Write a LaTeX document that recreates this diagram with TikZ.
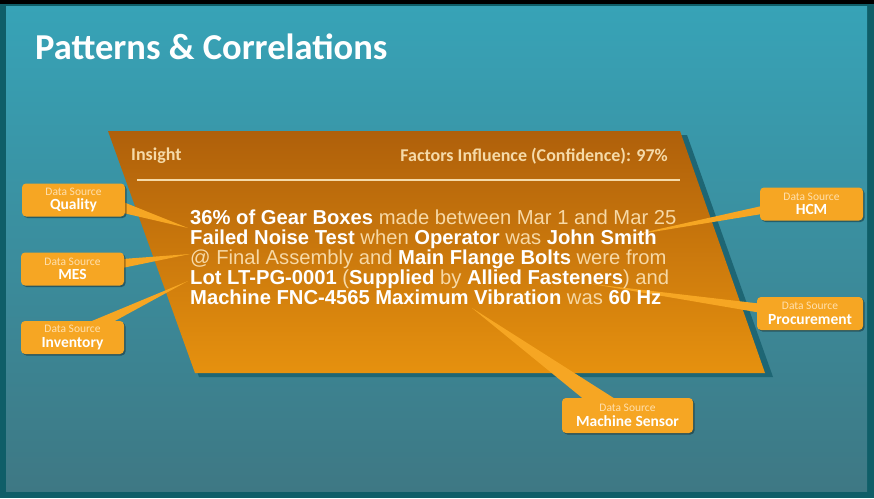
\documentclass[tikz,border=0pt]{standalone}
\usepackage{fontspec}
\setmainfont{Liberation Sans}
\newfontfamily\calfont{Carlito}
\usetikzlibrary{shadows,calc}
\definecolor{framec}{HTML}{0F5E68}
\definecolor{bgtop}{HTML}{37A3B7}
\definecolor{bgbot}{HTML}{3E7884}
\definecolor{trtop}{HTML}{AF600B}
\definecolor{trbot}{HTML}{E6910E}
\definecolor{trshadow}{HTML}{1E6674}
\definecolor{boxc}{HTML}{F6A623}
\definecolor{dsc}{HTML}{FFE0AE}
\definecolor{hdrc}{HTML}{F5DAA8}
\definecolor{lightc}{HTML}{F7D9A6}
\pgfdeclarelayer{bglayer}
\pgfdeclarelayer{wedgelayer}
\pgfsetlayers{bglayer,wedgelayer,main}
\tikzset{
  srcbox/.style={fill=boxc, rounded corners=4pt, minimum width=103pt, minimum height=33pt,
    inner sep=0pt, align=center, text=white, font=\calfont\fontsize{15.5}{14.5}\selectfont,
    drop shadow={shadow xshift=1.5pt, shadow yshift=-1.5pt, opacity=0.35, fill=black}},
  wedge/.style={fill=boxc},
  mainline/.style={anchor=base west, inner sep=0pt, text height=14.6pt, text depth=4.2pt,
    text=white, font=\fontsize{20.2}{22}\selectfont},
  hdr/.style={inner sep=0pt, text=hdrc, font=\calfont\bfseries\fontsize{18}{20}\selectfont}
}
\newcommand{\ds}[1]{{\fontsize{11.5}{12}\selectfont\color{dsc}Data Source}\\{\bfseries #1}}
\newcommand{\lt}[1]{{\mdseries\color{lightc}#1}}
\begin{document}
\begin{tikzpicture}[x=1pt,y=-1pt]
\useasboundingbox (0,0) rectangle (874,498);
\begin{pgfonlayer}{bglayer}
\fill[framec] (0,0) rectangle (874,498);
\shade[top color=bgtop, bottom color=bgbot] (6,6) rectangle (867,491);
\fill[black] (0,0) rectangle (874,4);
\fill[trshadow] (113,135) -- (687,135) -- (773,377) -- (199,377) -- cycle;
\shade[top color=trtop, bottom color=trbot] (108,131) -- (680,131) -- (765,373) -- (195,373) -- cycle;
\draw[hdrc, line width=1.3pt] (137,180) -- (680,180);
\end{pgfonlayer}

\node[anchor=west, inner sep=0pt, text=white, font=\calfont\bfseries\fontsize{36.5}{40}\selectfont] (title) at (35,47) {Patterns \& Correlations};

\node[hdr, anchor=west] (insight) at (131,156) {Insight};
\node[hdr, anchor=east] (factors) at (668,156) {Factors Influence (Confidence): 97\%};

\node[mainline] (l1) at (190,224) {\bfseries 36\% of Gear Boxes \lt{made between Mar 1 and Mar 25}};
\node[mainline] (l2) at (190,244) {\bfseries Failed Noise Test \lt{when} Operator \lt{was} John Smith};
\node[mainline] (l3) at (190,264) {\bfseries \lt{@ Final Assembly and} Main Flange Bolts \lt{were from}};
\node[mainline] (l4) at (190,284) {\bfseries Lot LT-PG-0001 \lt{(}Supplied \lt{by} Allied Fasteners\lt{) and}};
\node[mainline] (l5) at (190,304) {\bfseries Machine FNC-4565 Maximum Vibration \lt{was} 60 Hz};

\node[srcbox] (quality) at (73.5,200) {\ds{Quality}};
\node[srcbox] (mes) at (72.5,269) {\ds{MES}};
\node[srcbox] (inventory) at (72.5,337.5) {\ds{Inventory}};
\node[srcbox] (hcm) at (811.5,204) {\ds{HCM}};
\node[srcbox, minimum width=106pt] (procurement) at (810,313.5) {\ds{Procurement}};
\node[srcbox, minimum width=131pt, minimum height=35pt] (sensor) at (627.5,415.5) {\ds{Machine Sensor}};

\coordinate (tq) at (188,228);
\coordinate (tm) at (190,254);
\coordinate (ti) at (188,281);
\coordinate (th) at (628,236);
\coordinate (tp) at (592,284);
\coordinate (ts) at (472,308);

\begin{pgfonlayer}{wedgelayer}
\fill[wedge] ($(quality.east)+(-2,2)$) -- ($(quality.east)+(-2,13)$) -- (tq) -- cycle;
\fill[wedge] ($(mes.east)+(-2,-10)$) -- ($(mes.east)+(-2,-1)$) -- (tm) -- cycle;
\fill[wedge] ($(inventory.north)+(15,2)$) -- ($(inventory.north)+(39,2)$) -- (ti) -- cycle;
\fill[wedge] ($(hcm.west)+(2,2)$) -- ($(hcm.west)+(2,10)$) -- (th) -- cycle;
\fill[wedge] ($(procurement.west)+(2,-10)$) -- ($(procurement.west)+(2,-1)$) -- (tp) -- cycle;
\fill[wedge] ($(sensor.north)+(-43,2)$) -- ($(sensor.north)+(-11,2)$) -- (ts) -- cycle;
\end{pgfonlayer}
\end{tikzpicture}
\end{document}
